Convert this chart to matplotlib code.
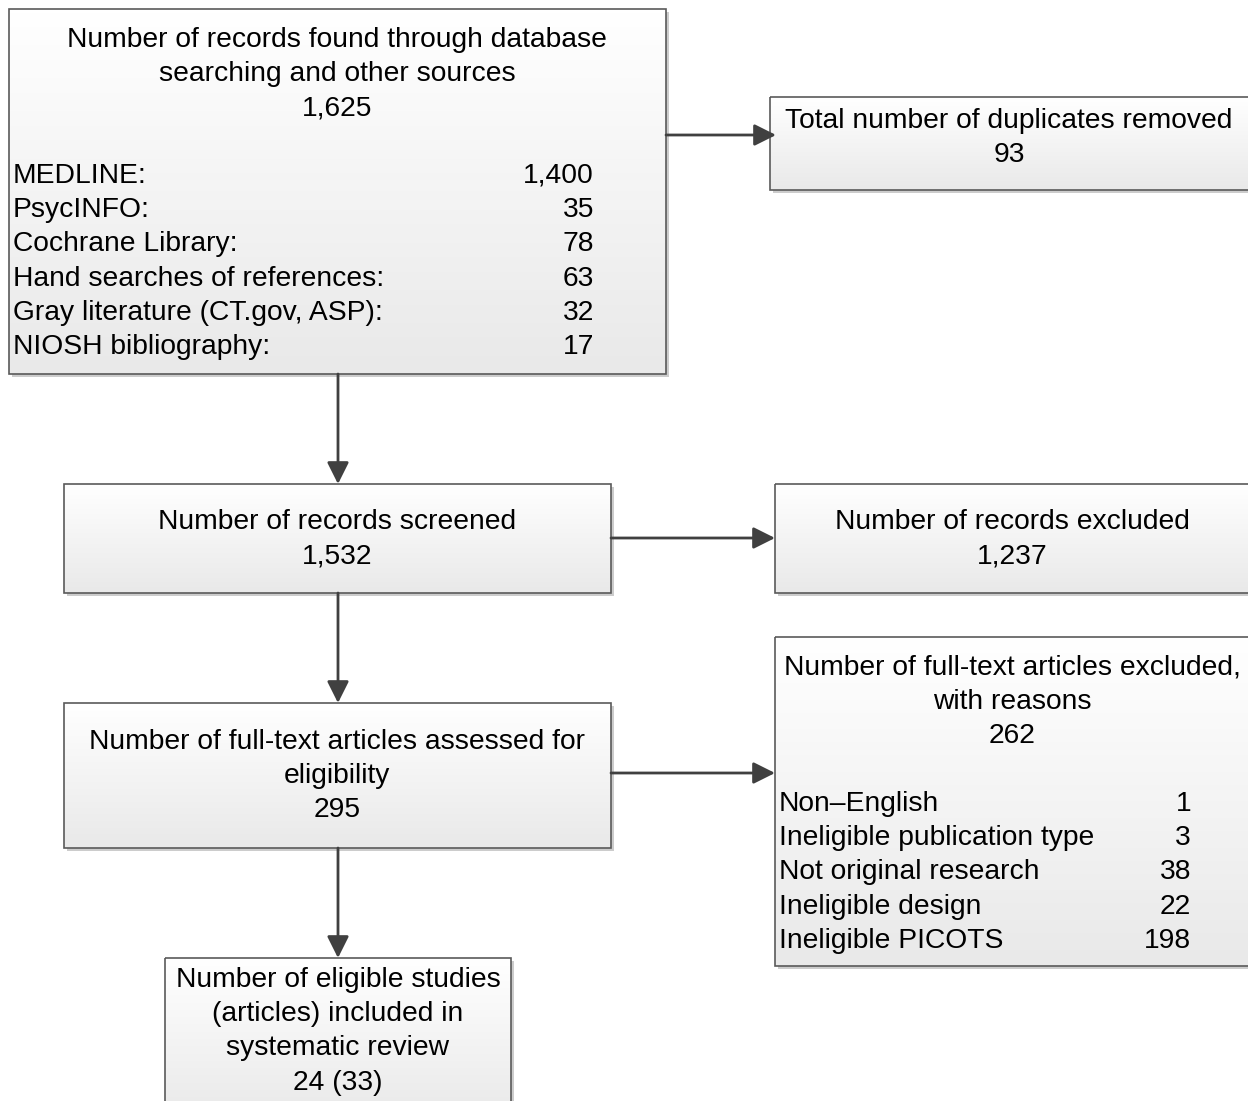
import numpy as np
import matplotlib.pyplot as plt
from matplotlib.patches import Rectangle, FancyArrowPatch
from matplotlib.colors import LinearSegmentedColormap

plt.rcParams.update({'font.family': ['Liberation Sans', 'DejaVu Sans']})

# chart content
identified_head = ['Number of records found through database', 'searching and other sources', '1,625']
source_names = ['MEDLINE:', 'PsycINFO:', 'Cochrane Library:', 'Hand searches of references:',
                'Gray literature (CT.gov, ASP):', 'NIOSH bibliography:']
source_counts = ['1,400', '35', '78', '63', '32', '17']
duplicates = ['Total number of duplicates removed', '93']
screened = ['Number of records screened', '1,532']
excluded = ['Number of records excluded', '1,237']
fulltext = ['Number of full-text articles assessed for', 'eligibility', '295']
ft_excluded_head = ['Number of full-text articles excluded,', 'with reasons', '262']
reason_names = ['Non\u2013English', 'Ineligible publication type', 'Not original research',
                'Ineligible design', 'Ineligible PICOTS']
reason_counts = ['1', '3', '38', '22', '198']
included = ['Number of eligible studies', '(articles) included in', 'systematic review', '24 (33)']

W, H = 1248, 1101
fig = plt.figure(figsize=(W / 100, H / 100), dpi=100)
ax = fig.add_axes([0, 0, 1, 1])
ax.set_xlim(0, W)
ax.set_ylim(H, 0)
ax.axis('off')

grad = LinearSegmentedColormap.from_list('g', ['#ffffff', '#e9e9e9'])
FS = 20.3
LINE = 34.2
DY = 2  # small downward nudge of all text


def box(x0, y0, x1, y1):
	ax.add_patch(Rectangle((x0 + 3, y0 + 3), x1 - x0, y1 - y0, fc='#cccccc', ec='none', zorder=1))
	ax.imshow(np.linspace(0, 1, 100)[:, None], cmap=grad, aspect='auto',
	          extent=(x0, x1, y1, y0), zorder=2)
	ax.add_patch(Rectangle((x0, y0), x1 - x0, y1 - y0, fc='none', ec='#5a5a5a', lw=1.2, zorder=3))


def lines(cx, y0, texts):
	for i, t in enumerate(texts):
		ax.text(cx, y0 + DY + i * LINE, t, ha='center', va='center', fontsize=FS, zorder=4)


def table(xl, xr, y0, names, counts):
	for i, (n, c) in enumerate(zip(names, counts)):
		ax.text(xl, y0 + DY + i * LINE, n, ha='left', va='center', fontsize=FS, zorder=4)
		ax.text(xr, y0 + DY + i * LINE, c, ha='right', va='center', fontsize=FS, zorder=4)


def arrow(p0, p1):
	ax.add_patch(FancyArrowPatch(p0, p1, arrowstyle='-|>,head_length=1.1,head_width=0.55',
	                             mutation_scale=12, color='#404040', lw=2.0,
	                             shrinkA=0, shrinkB=0, zorder=5))


box(9, 9, 666, 374)
lines(337, 38, identified_head)
table(13, 594, 174, source_names, source_counts)

box(770, 97, 1260, 190)
lines(1009, 119, duplicates)

box(64, 484, 611, 593)
lines(337, 520, screened)

box(775, 484, 1260, 593)
lines(1012, 520, excluded)

box(64, 703, 611, 848)
lines(337, 740, fulltext)

box(775, 637, 1260, 966)
lines(1012, 666, ft_excluded_head)
table(779, 1191, 802, reason_names, reason_counts)

box(165, 958, 511, 1120)
lines(338, 978, included)

arrow((666, 135), (776, 135))
arrow((338, 374), (338, 484))
arrow((611, 538), (775, 538))
arrow((338, 593), (338, 703))
arrow((611, 773), (775, 773))
arrow((338, 848), (338, 958))

fig.savefig('out.png', dpi=100)
